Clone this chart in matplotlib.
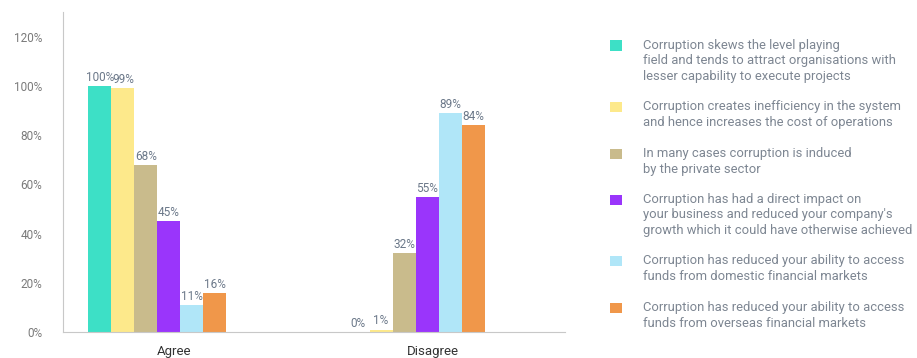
import matplotlib
matplotlib.use("Agg")
import matplotlib.pyplot as plt
from matplotlib.patches import Rectangle
import numpy as np

plt.rcParams['font.family'] = ['Roboto', 'DejaVu Sans']

categories = ["Agree", "Disagree"]
series_labels = [
    "Corruption skews the level playing\nfield and tends to attract organisations with\nlesser capability to execute projects",
    "Corruption creates inefficiency in the system\nand hence increases the cost of operations",
    "In many cases corruption is induced\nby the private sector",
    "Corruption has had a direct impact on\nyour business and reduced your company's\ngrowth which it could have otherwise achieved",
    "Corruption has reduced your ability to access\nfunds from domestic financial markets",
    "Corruption has reduced your ability to access\nfunds from overseas financial markets",
]
agree = [100, 99, 68, 45, 11, 16]
disagree = [0, 1, 32, 55, 89, 84]
colors = ["#3de0c6", "#fde98b", "#c9bb8c", "#9a35fb", "#b0e6f8", "#f0974a"]
yticks = [0, 20, 40, 60, 80, 100, 120]

W, H = 917, 358
fig = plt.figure(figsize=(W / 100, H / 100), dpi=100)
ax = fig.add_axes([63 / W, 26 / H, (565 - 63) / W, (332 - 12) / H])

x = np.arange(len(categories))
bw = 0.0891
values = np.array([agree, disagree]).T  # series x categories
for i, (vals, c) in enumerate(zip(values, colors)):
    pos = x + (i - 2.5) * bw
    bars = ax.bar(pos, vals, width=bw, color=c, edgecolor='none', zorder=2)
    for b, v in zip(bars, vals):
        ax.annotate(f"{v}%", (b.get_x() + b.get_width() / 2, v),
                    xytext=(0, 1.5), textcoords='offset points',
                    ha='center', va='bottom', fontsize=8.5, color='#6b7889')

ax.set_xlim(-0.366, 1.579)
ax.set_ylim(0, 130)
ax.set_yticks(yticks)
ax.set_yticklabels([f"{t}%" for t in yticks], fontsize=8.5, color='#7a7a7a')
ax.set_xticks(x + 0.066)
ax.set_xticklabels(categories, fontsize=9.5, color='#333333')
ax.tick_params(axis='y', length=0, pad=15)
ax.tick_params(axis='x', length=0, pad=9)
for s in ['top', 'right']:
    ax.spines[s].set_visible(False)
ax.spines['left'].set_color('#c8c8c8')
ax.spines['bottom'].set_color('#c8c8c8')

# legend (manual)
first_line_y = [45.5, 107, 154, 199.5, 261, 308]
for lbl, c, yc in zip(series_labels, colors, first_line_y):
    fig.patches.append(Rectangle((610 / W, 1 - (yc + 5) / H), 12 / W, 10 / H,
                                 transform=fig.transFigure, facecolor=c,
                                 edgecolor='none'))
    fig.text(643 / W, 1 - (yc - 7) / H, lbl, ha='left', va='top',
             fontsize=9.4, color='#7d8692', linespacing=1.28)

fig.savefig("out.png", dpi=100)
